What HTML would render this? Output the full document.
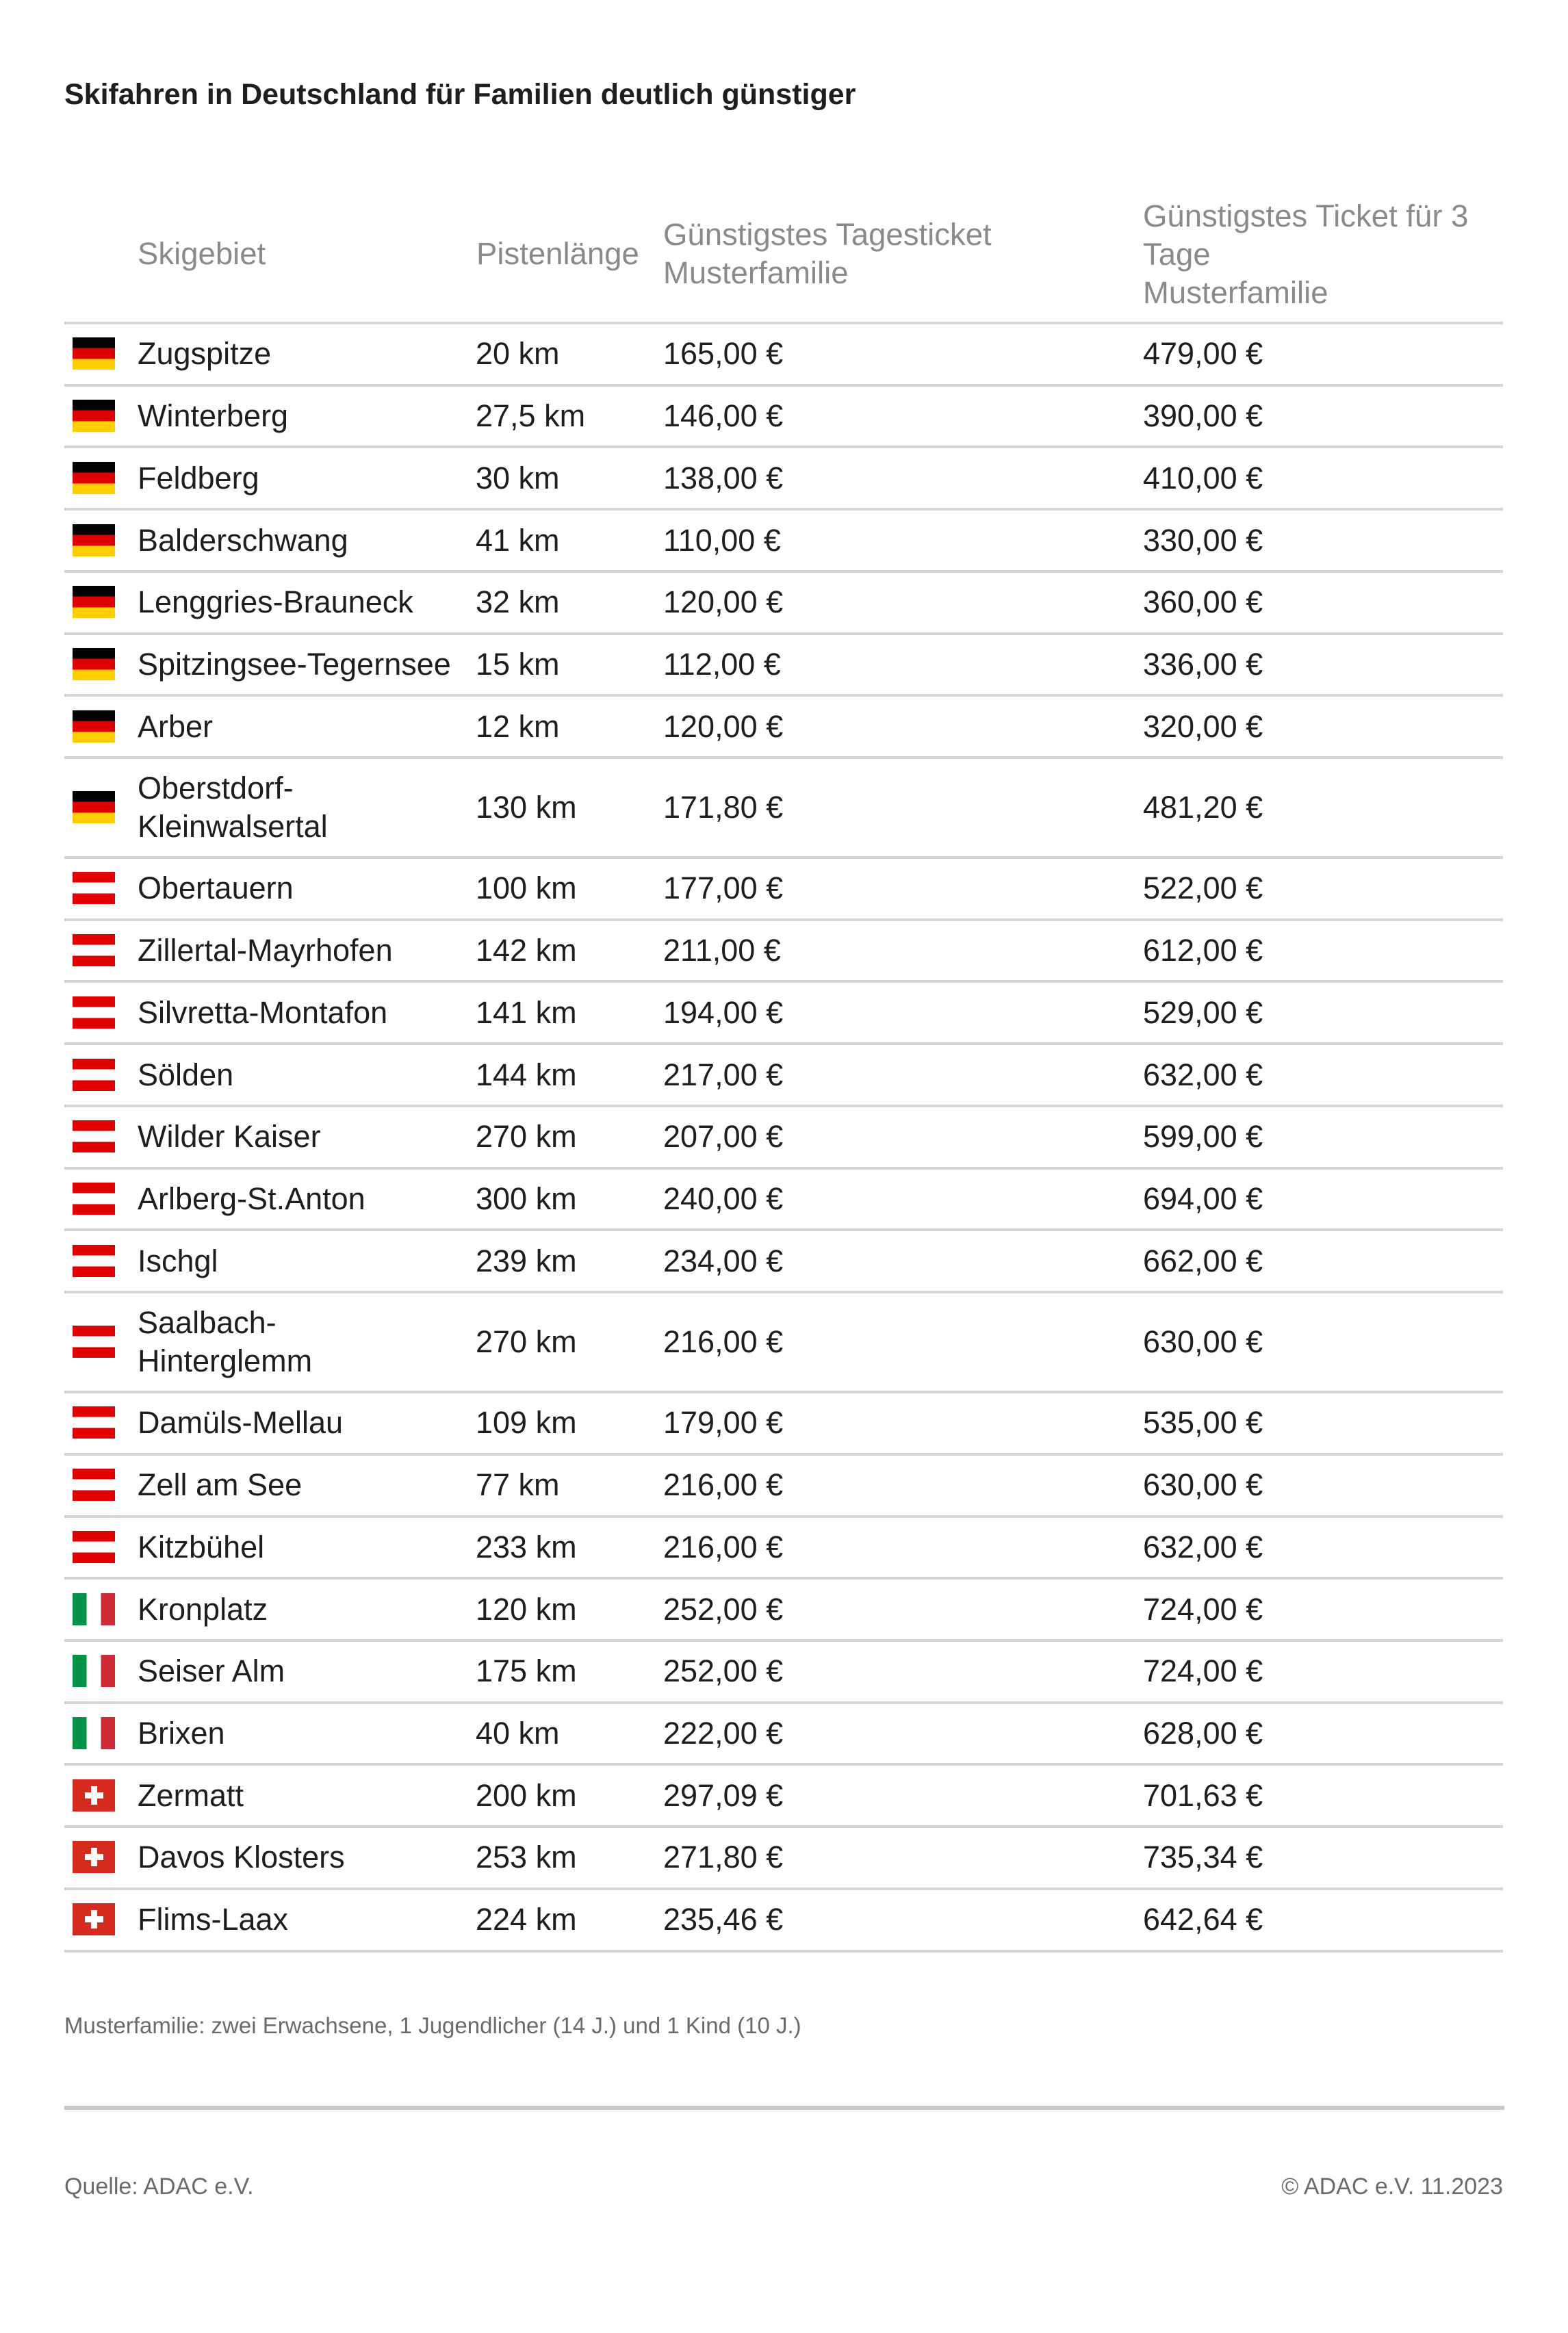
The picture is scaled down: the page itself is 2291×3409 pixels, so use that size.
<!DOCTYPE html>
<html><head><meta charset="utf-8"><style>
*{margin:0;padding:0;box-sizing:border-box}
body{width:2291px;height:3409px;background:#fff;font-family:"Liberation Sans",sans-serif;position:relative;overflow:hidden;color:#1e1e1e}
.abs{position:absolute}
h1{position:absolute;left:94px;top:114px;font-size:43px;font-weight:bold;color:#1e1e1e;white-space:nowrap}
.hd{position:absolute;color:#8a8a8a;font-size:45.5px;line-height:56px}
#tbl{position:absolute;left:94px;top:470px;width:2102px;border-top:4px solid #d4d4d4}
.r{height:90.72px;border-bottom:4px solid #d4d4d4;position:relative;font-size:45px}
.r.d{height:146px}
.r span{position:absolute;top:50%;transform:translateY(-50%);line-height:56px;white-space:nowrap}
.c1{left:107px}.c2{left:601px}.c3{left:875px}.c4{left:1576px}
.f{position:absolute;left:12px;top:50%;margin-top:-24px;width:62px;height:47px}
.de{background:linear-gradient(#000 0 33.3%,#dd0000 33.3% 66.6%,#ffce00 66.6%)}
.at{background:linear-gradient(#e00000 0 33.3%,#fff 33.3% 66.6%,#e00000 66.6%)}
.it{background:linear-gradient(90deg,#009246 0 33.3%,#fff 33.3% 66.6%,#ce2b37 66.6%)}
.ch{background:#d52b1e}
.ch:before{content:"";position:absolute;left:27px;top:10px;width:9px;height:27px;background:#fff}
.ch:after{content:"";position:absolute;left:18px;top:19px;width:27px;height:9px;background:#fff}
</style></head><body>
<h1>Skifahren in Deutschland für Familien deutlich günstiger</h1>
<div class="hd" style="left:201px;top:343px">Skigebiet</div>
<div class="hd" style="left:696px;top:343px">Pistenlänge</div>
<div class="hd" style="left:969px;top:315px">Günstigstes Tagesticket<br>Musterfamilie</div>
<div class="hd" style="left:1670px;top:288px">Günstigstes Ticket für 3<br>Tage<br>Musterfamilie</div>
<div id="tbl">
<div class="r"><i class="f de"></i><span class="c1">Zugspitze</span><span class="c2">20 km</span><span class="c3">165,00 €</span><span class="c4">479,00 €</span></div>
<div class="r"><i class="f de"></i><span class="c1">Winterberg</span><span class="c2">27,5 km</span><span class="c3">146,00 €</span><span class="c4">390,00 €</span></div>
<div class="r"><i class="f de"></i><span class="c1">Feldberg</span><span class="c2">30 km</span><span class="c3">138,00 €</span><span class="c4">410,00 €</span></div>
<div class="r"><i class="f de"></i><span class="c1">Balderschwang</span><span class="c2">41 km</span><span class="c3">110,00 €</span><span class="c4">330,00 €</span></div>
<div class="r"><i class="f de"></i><span class="c1">Lenggries-Brauneck</span><span class="c2">32 km</span><span class="c3">120,00 €</span><span class="c4">360,00 €</span></div>
<div class="r"><i class="f de"></i><span class="c1">Spitzingsee-Tegernsee</span><span class="c2">15 km</span><span class="c3">112,00 €</span><span class="c4">336,00 €</span></div>
<div class="r"><i class="f de"></i><span class="c1">Arber</span><span class="c2">12 km</span><span class="c3">120,00 €</span><span class="c4">320,00 €</span></div>
<div class="r d"><i class="f de"></i><span class="c1">Oberstdorf-<br>Kleinwalsertal</span><span class="c2">130 km</span><span class="c3">171,80 €</span><span class="c4">481,20 €</span></div>
<div class="r"><i class="f at"></i><span class="c1">Obertauern</span><span class="c2">100 km</span><span class="c3">177,00 €</span><span class="c4">522,00 €</span></div>
<div class="r"><i class="f at"></i><span class="c1">Zillertal-Mayrhofen</span><span class="c2">142 km</span><span class="c3">211,00 €</span><span class="c4">612,00 €</span></div>
<div class="r"><i class="f at"></i><span class="c1">Silvretta-Montafon</span><span class="c2">141 km</span><span class="c3">194,00 €</span><span class="c4">529,00 €</span></div>
<div class="r"><i class="f at"></i><span class="c1">Sölden</span><span class="c2">144 km</span><span class="c3">217,00 €</span><span class="c4">632,00 €</span></div>
<div class="r"><i class="f at"></i><span class="c1">Wilder Kaiser</span><span class="c2">270 km</span><span class="c3">207,00 €</span><span class="c4">599,00 €</span></div>
<div class="r"><i class="f at"></i><span class="c1">Arlberg-St.Anton</span><span class="c2">300 km</span><span class="c3">240,00 €</span><span class="c4">694,00 €</span></div>
<div class="r"><i class="f at"></i><span class="c1">Ischgl</span><span class="c2">239 km</span><span class="c3">234,00 €</span><span class="c4">662,00 €</span></div>
<div class="r d"><i class="f at"></i><span class="c1">Saalbach-<br>Hinterglemm</span><span class="c2">270 km</span><span class="c3">216,00 €</span><span class="c4">630,00 €</span></div>
<div class="r"><i class="f at"></i><span class="c1">Damüls-Mellau</span><span class="c2">109 km</span><span class="c3">179,00 €</span><span class="c4">535,00 €</span></div>
<div class="r"><i class="f at"></i><span class="c1">Zell am See</span><span class="c2">77 km</span><span class="c3">216,00 €</span><span class="c4">630,00 €</span></div>
<div class="r"><i class="f at"></i><span class="c1">Kitzbühel</span><span class="c2">233 km</span><span class="c3">216,00 €</span><span class="c4">632,00 €</span></div>
<div class="r"><i class="f it"></i><span class="c1">Kronplatz</span><span class="c2">120 km</span><span class="c3">252,00 €</span><span class="c4">724,00 €</span></div>
<div class="r"><i class="f it"></i><span class="c1">Seiser Alm</span><span class="c2">175 km</span><span class="c3">252,00 €</span><span class="c4">724,00 €</span></div>
<div class="r"><i class="f it"></i><span class="c1">Brixen</span><span class="c2">40 km</span><span class="c3">222,00 €</span><span class="c4">628,00 €</span></div>
<div class="r"><i class="f ch"></i><span class="c1">Zermatt</span><span class="c2">200 km</span><span class="c3">297,09 €</span><span class="c4">701,63 €</span></div>
<div class="r"><i class="f ch"></i><span class="c1">Davos Klosters</span><span class="c2">253 km</span><span class="c3">271,80 €</span><span class="c4">735,34 €</span></div>
<div class="r"><i class="f ch"></i><span class="c1">Flims-Laax</span><span class="c2">224 km</span><span class="c3">235,46 €</span><span class="c4">642,64 €</span></div>
</div>
<div class="abs" style="left:94px;top:2941px;font-size:33px;color:#6a6a6a;white-space:nowrap">Musterfamilie: zwei Erwachsene, 1 Jugendlicher (14 J.) und 1 Kind (10 J.)</div>
<div class="abs" style="left:94px;top:3077px;width:2104px;height:6px;background:#c8c8c8"></div>
<div class="abs" style="left:94px;top:3176px;font-size:34px;color:#6a6a6a">Quelle: ADAC e.V.</div>
<div class="abs" style="right:95px;top:3176px;font-size:34px;color:#6a6a6a">© ADAC e.V. 11.2023</div>
</body></html>
